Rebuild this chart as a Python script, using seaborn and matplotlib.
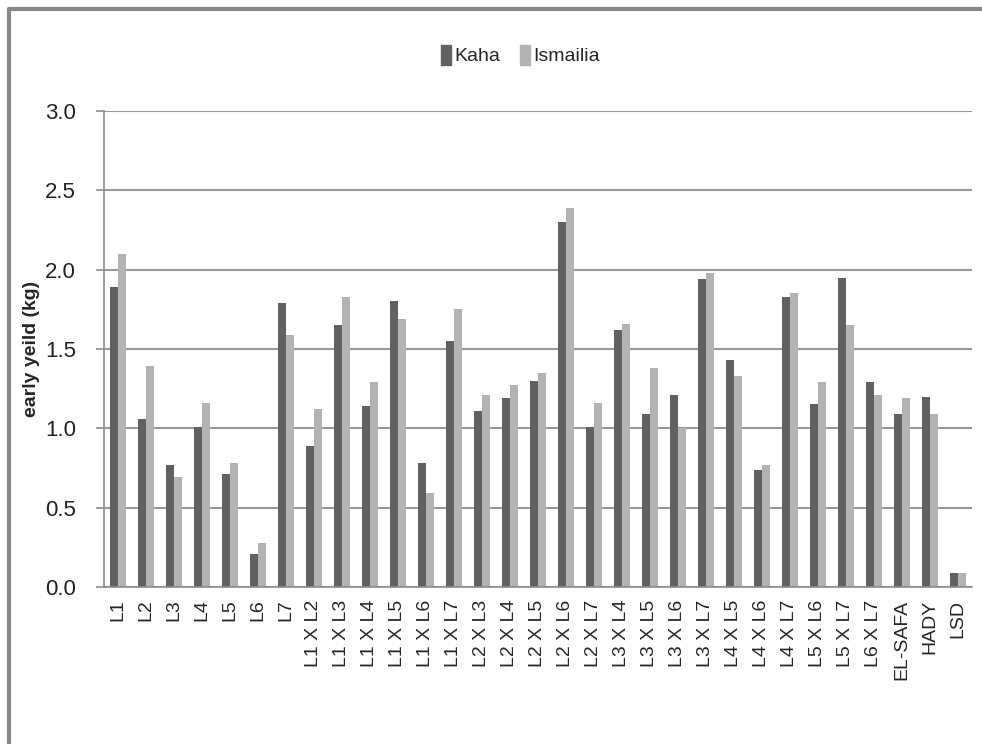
import pandas as pd
import numpy as np
import seaborn as sns
import matplotlib.pyplot as plt
from matplotlib.lines import Line2D

genotypes = ["L1", "L2", "L3", "L4", "L5", "L6", "L7",
             "L1 X L2", "L1 X L3", "L1 X L4", "L1 X L5", "L1 X L6", "L1 X L7",
             "L2 X L3", "L2 X L4", "L2 X L5", "L2 X L6", "L2 X L7",
             "L3 X L4", "L3 X L5", "L3 X L6", "L3 X L7",
             "L4 X L5", "L4 X L6", "L4 X L7",
             "L5 X L6", "L5 X L7", "L6 X L7",
             "EL-SAFA", "HADY", "LSD"]
kaha = [1.89, 1.06, 0.77, 1.01, 0.71, 0.21, 1.79,
        0.89, 1.65, 1.14, 1.80, 0.78, 1.55,
        1.11, 1.19, 1.30, 2.30, 1.01,
        1.62, 1.09, 1.21, 1.94,
        1.43, 0.74, 1.83,
        1.15, 1.95, 1.29,
        1.09, 1.20, 0.09]
ismailia = [2.10, 1.39, 0.69, 1.16, 0.78, 0.28, 1.59,
            1.12, 1.83, 1.29, 1.69, 0.59, 1.75,
            1.21, 1.27, 1.35, 2.39, 1.16,
            1.66, 1.38, 1.00, 1.98,
            1.33, 0.77, 1.85,
            1.29, 1.65, 1.21,
            1.19, 1.09, 0.09]
locations = ["Kaha", "Ismailia"]
colors = ["#616161", "#b3b3b3"]

df = pd.DataFrame({"genotype": genotypes * 2,
                   "location": ["Kaha"] * len(genotypes) + ["Ismailia"] * len(genotypes),
                   "yield": kaha + ismailia})

sns.set_style("white")
plt.rcParams["font.family"] = ["Liberation Sans", "DejaVu Sans"]

fig = plt.figure(figsize=(9.82, 7.44), dpi=100)
ax = fig.add_axes([0.1059, 0.211, 0.8839, 0.640])

sns.barplot(data=df, x="genotype", y="yield", hue="location", hue_order=locations,
            palette=colors, width=0.55, gap=0, edgecolor="none", ax=ax, legend=False)

ax.set_ylim(0, 3.0)
ax.set_xlim(-0.5, len(genotypes) - 0.5)
yt = np.arange(0, 3.01, 0.5)
ax.set_yticks(yt)
ax.set_yticklabels([f"{v:.1f}" for v in yt], fontsize=16, color="#222222")
ax.yaxis.grid(True, color="#9a9a9a", linewidth=1.5)
ax.set_axisbelow(True)

for s in ["top", "right"]:
    ax.spines[s].set_visible(False)
for s in ["left", "bottom"]:
    ax.spines[s].set_color("#8c8c8c")
    ax.spines[s].set_linewidth(1.2)

# ticks between categories, labels at the centres
ax.set_xticks(np.arange(len(genotypes)))
ax.set_xticklabels(genotypes, rotation=90, fontsize=14)
ax.set_xticks(np.arange(-0.5, len(genotypes)), minor=True)
ax.tick_params(axis="x", which="major", length=0, pad=9)
ax.tick_params(axis="x", which="minor", length=7, color="#8c8c8c", width=1.2, direction="out")
ax.tick_params(axis="y", length=6, color="#8c8c8c", width=1.2, direction="out", left=True, pad=14)

ax.set_xlabel("")
ax.set_ylabel("early yeild (kg)", fontsize=14, fontweight="bold")
ax.yaxis.set_label_coords(-0.074, 0.5)

handles = [plt.Rectangle((0, 0), 1, 1, color=c) for c in colors]
fig.legend(handles, locations, loc="center", bbox_to_anchor=(0.53, 0.926), ncol=2,
           frameon=False, handlelength=0.5, handleheight=1.2, handletextpad=0.2,
           columnspacing=1.0, prop={"size": 14})

# outer chart border (left and top visible)
fig.add_artist(Line2D([0.0095, 0.0095], [0, 0.988], transform=fig.transFigure,
                      color="#888888", linewidth=3))
fig.add_artist(Line2D([0.0095, 1], [0.988, 0.988], transform=fig.transFigure,
                      color="#888888", linewidth=3))

fig.savefig("out.png", dpi=100)
